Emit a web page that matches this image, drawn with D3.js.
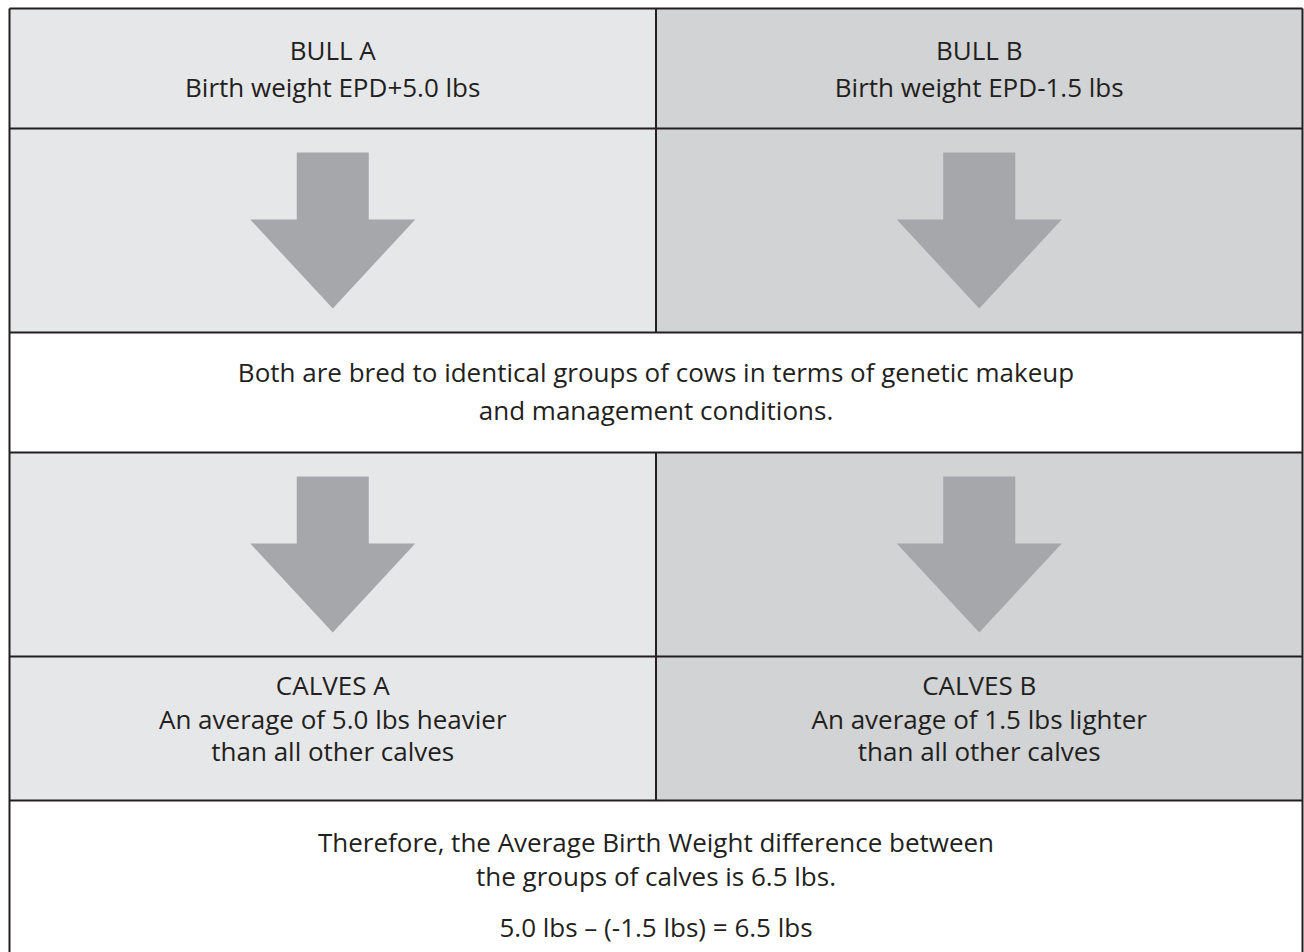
<!DOCTYPE html>
<html>
<head>
<meta charset="utf-8">
<script src="https://cdn.jsdelivr.net/npm/d3@7"></script>
<style>
  html, body { margin: 0; padding: 0; background: #ffffff; }
  svg { display: block; }
  text { font-family: "Open Sans", "Noto Sans", sans-serif; fill: #231f20; }
</style>
</head>
<body>
<svg id="chart" width="1304" height="952"></svg>
<script>
// ---- content ----
const bulls = ["A", "B"];
const bullTitles = ["BULL A", "BULL B"];
const bullEPD = ["Birth weight EPD+5.0 lbs", "Birth weight EPD-1.5 lbs"];
const breedingText = [
  "Both are bred to identical groups of cows in terms of genetic makeup",
  "and management conditions."
];
const calfTitles = ["CALVES A", "CALVES B"];
const calfLine1 = ["An average of 5.0 lbs heavier", "An average of 1.5 lbs lighter"];
const calfLine2 = ["than all other calves", "than all other calves"];
const conclusionText = [
  "Therefore, the Average Birth Weight difference between",
  "the groups of calves is 6.5 lbs."
];
const equationText = ["5.0 lbs \u2013 (-1.5 lbs) = 6.5 lbs"];

// ---- layout ----
const W = 1304, H = 952;
const leftX = 9.5, rightX = 1302.5, topY = 8.5;
const rowEdges = [topY, 128.5, 332.5, 452.5, 656.5, 800.5, 960];
const colorA = "#e6e7e8", colorB = "#d1d3d4", arrowColor = "#a5a7aa", lineColor = "#231f20";
const fontSize = 26;

const svg = d3.select("#chart");
const x = d3.scaleBand().domain(bulls).range([leftX, rightX]).padding(0);
const xFull = d3.scaleLinear().domain([0, 1]).range([leftX, rightX]);

// backgrounds for split rows (0,1,3,4)
const splitRows = [0, 1, 3, 4];
splitRows.forEach(r => {
  svg.selectAll(null).data(bulls).enter().append("rect")
    .attr("x", d => x(d)).attr("y", rowEdges[r])
    .attr("width", x.bandwidth()).attr("height", rowEdges[r + 1] - rowEdges[r])
    .attr("fill", (d, i) => i === 0 ? colorA : colorB);
});

// arrows in rows 1 and 3
const arrowPath = (cx, y0) => {
  const sw = 36, hw = 82.5;
  return `M${cx - sw},${y0 + 24} L${cx + sw},${y0 + 24} L${cx + sw},${y0 + 91} L${cx + hw},${y0 + 91} L${cx},${y0 + 180} L${cx - hw},${y0 + 91} L${cx - sw},${y0 + 91} Z`;
};
[1, 3].forEach(r => {
  svg.selectAll(null).data(bulls).enter().append("path")
    .attr("d", d => arrowPath(x(d) + x.bandwidth() / 2, rowEdges[r]))
    .attr("fill", arrowColor);
});

// grid lines
const hLines = rowEdges.slice(0, 6);
svg.selectAll(null).data(hLines).enter().append("line")
  .attr("x1", leftX).attr("x2", rightX).attr("y1", d => d).attr("y2", d => d)
  .attr("stroke", lineColor).attr("stroke-width", 2);
svg.selectAll(null).data(splitRows).enter().append("line")
  .attr("x1", x("B")).attr("x2", x("B"))
  .attr("y1", r => rowEdges[r]).attr("y2", r => rowEdges[r + 1])
  .attr("stroke", lineColor).attr("stroke-width", 2);
svg.append("line").attr("x1", leftX).attr("x2", leftX).attr("y1", topY).attr("y2", H + 5)
  .attr("stroke", lineColor).attr("stroke-width", 2);
svg.append("line").attr("x1", rightX).attr("x2", rightX).attr("y1", topY).attr("y2", H + 5)
  .attr("stroke", lineColor).attr("stroke-width", 2);

// text helpers
function colText(lines, baselines) {
  lines.forEach((arr, li) => {
    svg.selectAll(null).data(bulls).enter().append("text")
      .attr("x", d => x(d) + x.bandwidth() / 2).attr("y", baselines[li])
      .attr("text-anchor", "middle").attr("font-size", fontSize)
      .text((d, i) => arr[i]);
  });
}
function fullText(arr, baselines) {
  svg.selectAll(null).data(arr).enter().append("text")
    .attr("x", xFull(0.5)).attr("y", (d, i) => baselines[i])
    .attr("text-anchor", "middle").attr("font-size", fontSize)
    .text(d => d);
}

colText([bullTitles, bullEPD], [60, 97]);
fullText(breedingText, [382, 420]);
colText([calfTitles, calfLine1, calfLine2], [695, 729, 761]);
fullText(conclusionText, [852, 886]);
fullText(equationText, [937]);
</script>
</body>
</html>
